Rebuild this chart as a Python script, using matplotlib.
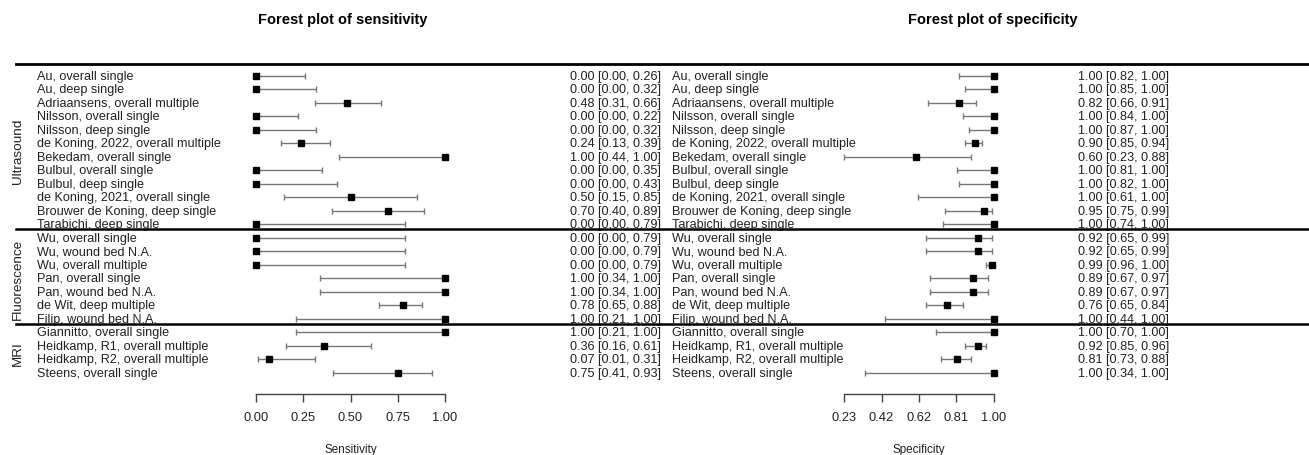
import numpy as np
import matplotlib
matplotlib.use("Agg")
import matplotlib.pyplot as plt
from matplotlib.transforms import blended_transform_factory
from matplotlib.lines import Line2D

plt.rcParams['font.family'] = ['Liberation Sans', 'DejaVu Sans']

# ── Data
studies = [
    "Au, overall single", "Au, deep single", "Adriaansens, overall multiple",
    "Nilsson, overall single", "Nilsson, deep single",
    "de Koning, 2022, overall multiple", "Bekedam, overall single",
    "Bulbul, overall single", "Bulbul, deep single",
    "de Koning, 2021, overall single", "Brouwer de Koning, deep single",
    "Tarabichi, deep single",
    "Wu, overall single", "Wu, wound bed N.A.", "Wu, overall multiple",
    "Pan, overall single", "Pan, wound bed N.A.", "de Wit, deep multiple",
    "Filip, wound bed N.A.",
    "Giannitto, overall single", "Heidkamp, R1, overall multiple",
    "Heidkamp, R2, overall multiple", "Steens, overall single",
]
groups = ["Ultrasound", "Fluorescence", "MRI"]
group_sizes = [12, 7, 4]

sens_est = [0.00, 0.00, 0.48, 0.00, 0.00, 0.24, 1.00, 0.00, 0.00, 0.50, 0.70, 0.00,
            0.00, 0.00, 0.00, 1.00, 1.00, 0.78, 1.00,
            1.00, 0.36, 0.07, 0.75]
sens_lo = [0.00, 0.00, 0.31, 0.00, 0.00, 0.13, 0.44, 0.00, 0.00, 0.15, 0.40, 0.00,
           0.00, 0.00, 0.00, 0.34, 0.34, 0.65, 0.21,
           0.21, 0.16, 0.01, 0.41]
sens_hi = [0.26, 0.32, 0.66, 0.22, 0.32, 0.39, 1.00, 0.35, 0.43, 0.85, 0.89, 0.79,
           0.79, 0.79, 0.79, 1.00, 1.00, 0.88, 1.00,
           1.00, 0.61, 0.31, 0.93]

spec_est = [1.00, 1.00, 0.82, 1.00, 1.00, 0.90, 0.60, 1.00, 1.00, 1.00, 0.95, 1.00,
            0.92, 0.92, 0.99, 0.89, 0.89, 0.76, 1.00,
            1.00, 0.92, 0.81, 1.00]
spec_lo = [0.82, 0.85, 0.66, 0.84, 0.87, 0.85, 0.23, 0.81, 0.82, 0.61, 0.75, 0.74,
           0.65, 0.65, 0.96, 0.67, 0.67, 0.65, 0.44,
           0.70, 0.85, 0.73, 0.34]
spec_hi = [1.00, 1.00, 0.91, 1.00, 1.00, 0.94, 0.88, 1.00, 1.00, 1.00, 0.99, 1.00,
           0.99, 0.99, 1.00, 0.97, 0.97, 0.84, 1.00,
           1.00, 0.96, 0.88, 1.00]

sens_ticks = [0.00, 0.25, 0.50, 0.75, 1.00]
sens_ticklabels = ["0.00", "0.25", "0.50", "0.75", "1.00"]
spec_ticks = [0.23, 0.4225, 0.615, 0.8075, 1.00]
spec_ticklabels = ["0.23", "0.42", "0.62", "0.81", "1.00"]

# ── Layout (pixels of a 1309x456 canvas)
W, H = 1309, 456
ROW0, ROWH = 77, 13.5
TOP_PX, AXIS_PX = 65, 395
FS = 9.1
PT = 0.72  # points per pixel at dpi 100


def fx(px):
    return px / W


def fy(px):
    return 1 - px / H


n = len(studies)
rows = np.arange(n)
y_top = (TOP_PX - ROW0) / ROWH
y_bot = (AXIS_PX - ROW0) / ROWH

fig = plt.figure(figsize=(W / 100, H / 100), dpi=100)


def panel(x0_px, x1_px, xlim, est, lo, hi, ticks, ticklabels, xlabel,
          label_px, value_px, title, title_px):
    ax = fig.add_axes([fx(x0_px), fy(AXIS_PX), fx(x1_px - x0_px),
                       (AXIS_PX - TOP_PX) / H])
    ax.set_xlim(*xlim)
    ax.set_ylim(y_bot, y_top)
    for s in ['top', 'left', 'right']:
        ax.spines[s].set_visible(False)
    ax.spines['bottom'].set_bounds(ticks[0], ticks[-1])
    ax.spines['bottom'].set_color('#444444')
    ax.spines['bottom'].set_linewidth(1.0)
    ax.set_yticks([])
    ax.set_xticks(ticks)
    ax.set_xticklabels(ticklabels, fontsize=9.3, color='#222222')
    ax.tick_params(axis='x', direction='out', length=8 * PT, width=1.0,
                   color='#444444', pad=9 * PT)
    ax.set_xlabel(xlabel, fontsize=8.4, color='#222222', labelpad=20 * PT)
    ax.patch.set_visible(False)

    est = np.array(est)
    lo = np.array(lo)
    hi = np.array(hi)
    ax.errorbar(est, rows, xerr=[est - lo, hi - est], fmt='none',
                ecolor='#777777', elinewidth=1.0, capsize=3 * PT,
                capthick=1.0, clip_on=False)
    ax.plot(est, rows, 's', color='black', markersize=6.5 * PT,
            clip_on=False, zorder=3)

    tr = blended_transform_factory(fig.transFigure, ax.transData)
    for i, name in enumerate(studies):
        ax.text(fx(label_px), i, name, transform=tr, ha='left', va='center',
                fontsize=FS, color='#222222')
        ax.text(fx(value_px), i, f"{est[i]:.2f} [{lo[i]:.2f}, {hi[i]:.2f}]",
                transform=tr, ha='right', va='center', fontsize=FS,
                color='#222222')
    fig.text(fx(title_px), fy(20), title, ha='center', va='center',
             fontsize=10.5, fontweight='bold')
    return ax


ax_sens = panel(256, 445, (0, 1), sens_est, sens_lo, sens_hi,
                sens_ticks, sens_ticklabels, "Sensitivity",
                37, 661, "Forest plot of sensitivity", 343)
ax_spec = panel(844, 994, (0.23, 1.0), spec_est, spec_lo, spec_hi,
                spec_ticks, spec_ticklabels, "Specificity",
                672, 1169, "Forest plot of specificity", 993)

# ── Horizontal rules and group labels
tr = blended_transform_factory(fig.transFigure, ax_sens.transData)
fig.add_artist(Line2D([fx(16), 1.0], [y_top, y_top], transform=tr,
                      color='black', linewidth=2.0))
start = 0
for g, size in zip(groups, group_sizes):
    end = start + size - 1
    ax_sens.text(fx(17.5), (start + end) / 2, g, transform=tr, rotation=90,
                 ha='center', va='center', fontsize=9.7, color='#222222')
    if end < n - 1:
        y_sep = end + 0.37
        fig.add_artist(Line2D([fx(16), 1.0], [y_sep, y_sep], transform=tr,
                              color='black', linewidth=1.8))
    start = end + 1

fig.savefig("out.png", dpi=100)
